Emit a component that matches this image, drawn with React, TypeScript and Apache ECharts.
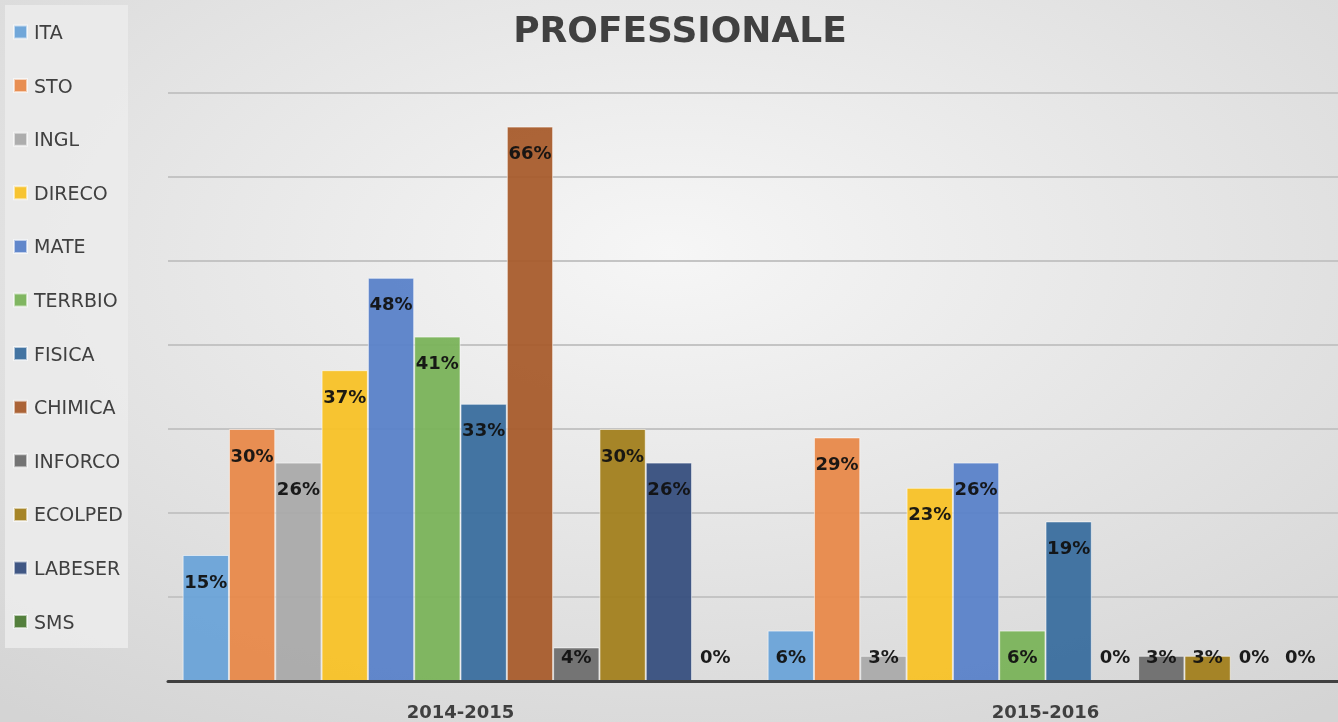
import React, { useEffect, useRef } from "react";
import * as echarts from "echarts";

const categories = ["2014-2015", "2015-2016"];
const seriesNames = ["ITA", "STO", "INGL", "DIRECO", "MATE", "TERRBIO", "FISICA", "CHIMICA", "INFORCO", "ECOLPED", "LABESER", "SMS"];
const ITA = [15, 6];
const STO = [30, 29];
const INGL = [26, 3];
const DIRECO = [37, 23];
const MATE = [48, 26];
const TERRBIO = [41, 6];
const FISICA = [33, 19];
const CHIMICA = [66, 0];
const INFORCO = [4, 3];
const ECOLPED = [30, 3];
const LABESER = [26, 0];
const SMS = [0, 0];
const seriesValues = [ITA, STO, INGL, DIRECO, MATE, TERRBIO, FISICA, CHIMICA, INFORCO, ECOLPED, LABESER, SMS];
const colors = ["#6aa3d8", "#e8894a", "#aaaaaa", "#f8c227", "#5a82c9", "#7ab35a", "#3a6e9e", "#a85c2c", "#6e6e6e", "#a27f1e", "#374f7e", "#4c7a34"];
const yTicks = [0, 10, 20, 30, 40, 50, 60, 70];

export default function App() {
  const ref = useRef<HTMLDivElement>(null);
  useEffect(() => {
    const chart = echarts.init(ref.current!, null, { renderer: "svg" });
    const font = "'DejaVu Sans', sans-serif";
    const series = seriesNames.map((name, i) => ({
      name,
      type: "bar",
      barGap: "0%",
      barCategoryGap: "5%",
      itemStyle: { color: colors[i], borderColor: "rgba(255,255,255,0.6)", borderWidth: 1, opacity: 0.95 },
      data: seriesValues[i].map((v) => ({
        value: v,
        itemStyle: v === 0 ? { borderWidth: 0 } : {},
        label: v <= 6
          ? { position: "insideBottom", distance: 16 }
          : { position: "insideTop", distance: 17 },
      })),
      label: {
        show: true,
        formatter: "{c}%",
        color: "#111",
        fontSize: 18,
        fontWeight: "bold",
        fontFamily: font,
      },
    }));
    chart.setOption({
      animation: false,
      backgroundColor: {
        type: "radial",
        x: 0.5,
        y: 0.35,
        r: 0.8,
        colorStops: [
          { offset: 0, color: "#f6f6f6" },
          { offset: 1, color: "#d4d4d4" },
        ],
      },
      color: colors,
      graphic: [
        { type: "rect", shape: { x: 5, y: 5, width: 123, height: 643 }, style: { fill: "rgba(235,235,235,0.9)" }, z: 0 },
        {
          type: "text",
          x: 680,
          y: 29,
          style: { text: "PROFESSIONALE", fill: "#404040", font: `bold 36px ${font}`, textAlign: "center", textVerticalAlign: "middle" },
        },
      ],
      legend: {
        orient: "vertical",
        left: 8,
        top: 16,
        itemWidth: 13,
        itemHeight: 13,
        itemGap: 31.6,
        icon: "rect",
        textStyle: { fontSize: 19, color: "#404040", fontFamily: font, lineHeight: 22, padding: [0, 0, 0, 2] },
        data: seriesNames,
        z: 5,
      },
      grid: { left: 168, right: 0, top: 93, bottom: 41 },
      xAxis: {
        type: "category",
        data: categories,
        z: 10,
        axisLine: { lineStyle: { color: "#404040", width: 3 } },
        axisTick: { show: false },
        axisLabel: { color: "#404040", fontSize: 18, fontWeight: "bold", fontFamily: font, margin: 21 },
      },
      yAxis: {
        type: "value",
        min: yTicks[0],
        max: yTicks[yTicks.length - 1],
        interval: 10,
        axisLabel: { show: false },
        axisLine: { show: false },
        axisTick: { show: false },
        splitLine: { lineStyle: { color: "#c4c4c4", width: 2 } },
      },
      series,
    });
    return () => chart.dispose();
  }, []);
  return <div ref={ref} style={{ position: "fixed", left: 0, top: 0, width: 1338, height: 722 }} />;
}
